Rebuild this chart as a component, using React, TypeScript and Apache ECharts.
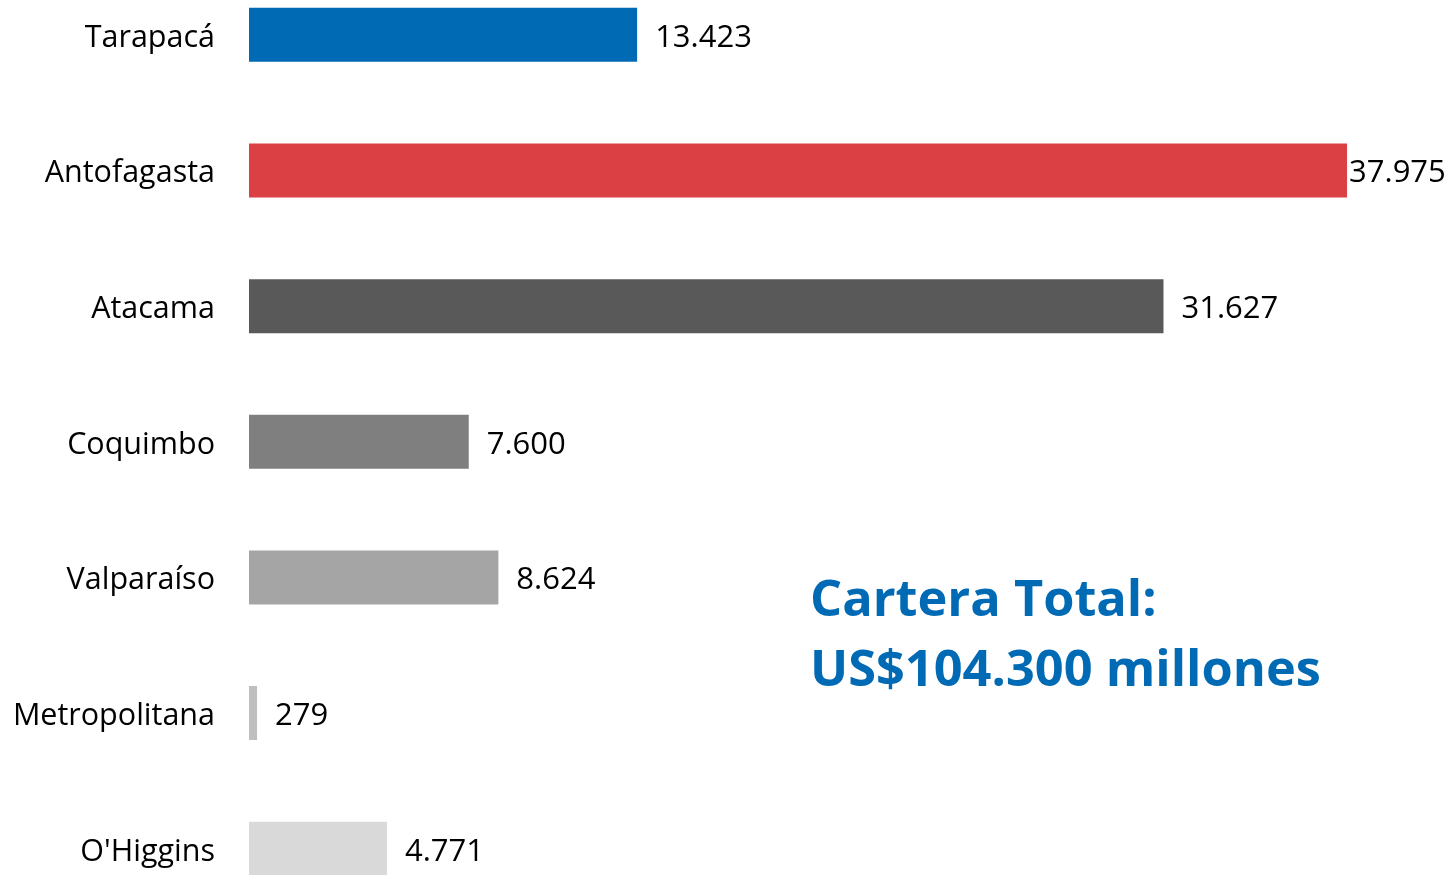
import React, { useEffect, useRef } from "react";
import * as echarts from "echarts";

const regions = ["Tarapacá", "Antofagasta", "Atacama", "Coquimbo", "Valparaíso", "Metropolitana", "O'Higgins"];
const values = [13423, 37975, 31627, 7600, 8624, 279, 4771];
const barColors = ["#006AB5", "#DB4045", "#595959", "#7F7F7F", "#A5A5A5", "#BFBFBF", "#D9D9D9"];
const labelDistances = [18, 2, 18, 18, 18, 18, 18];
const titleLines = ["Cartera Total:", "US$104.300 millones"];

const fmt = (v: number) => v.toLocaleString("de-DE");

const OFFSET = 33;

export default function App() {
  const ref = useRef<HTMLDivElement>(null);
  useEffect(() => {
    if (!ref.current) return;
    const chart = echarts.init(ref.current, undefined, { renderer: "svg" });
    const font = "'Open Sans', sans-serif";
    chart.setOption({
      animation: false,
      grid: { left: 249, top: 0, width: 1156.6, height: 949.6, containLabel: false },
      xAxis: {
        type: "value",
        min: 0,
        max: 40000,
        show: false,
      },
      yAxis: {
        type: "category",
        data: regions,
        inverse: true,
        axisLine: { show: false },
        axisTick: { show: false },
        axisLabel: { margin: 34, fontSize: 30.5, color: "#000", fontFamily: font },
      },
      series: [
        {
          type: "bar",
          barWidth: 54,
          data: values.map((v, i) => ({
            value: v,
            itemStyle: { color: barColors[i] },
            label: { distance: labelDistances[i] },
          })),
          label: {
            show: true,
            position: "right",
            fontSize: 31,
            color: "#000",
            fontFamily: font,
            formatter: (p: any) => fmt(p.value),
          },
        },
      ],
      graphic: titleLines.map((t, i) => ({
        type: "text",
        left: 810,
        top: 571 + OFFSET + i * 70,
        style: {
          text: t,
          fontSize: 50.5,
          fontWeight: "bold",
          fontFamily: font,
          fill: "#006AB5",
        },
      })),
    });
    return () => chart.dispose();
  }, []);
  return <div ref={ref} style={{ position: "fixed", left: 0, top: -OFFSET, width: 1449, height: 950 }} />;
}
